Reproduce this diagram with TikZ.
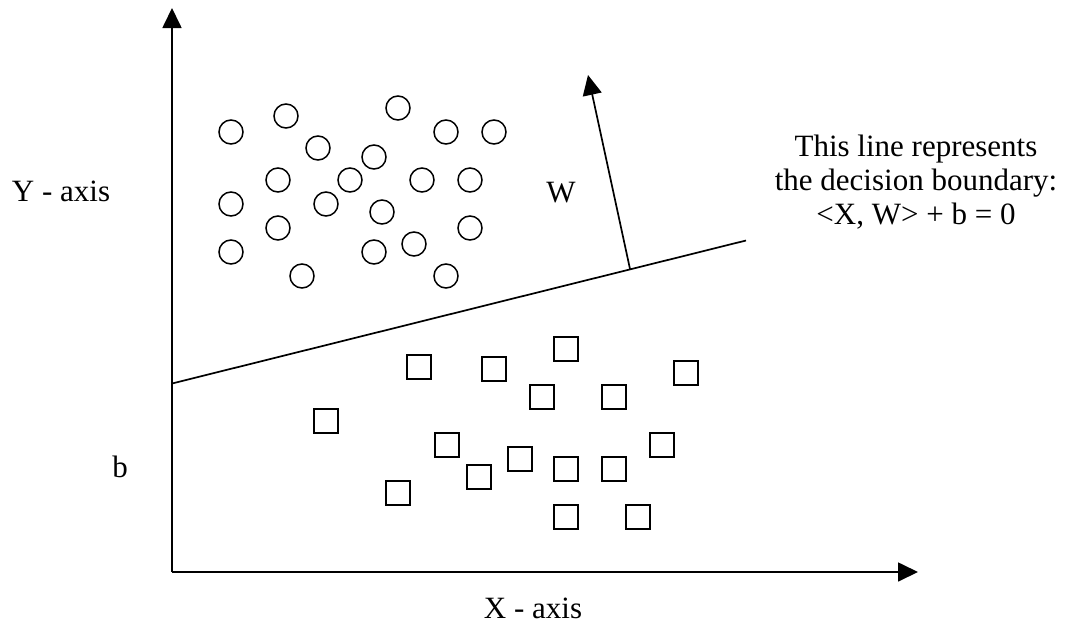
\documentclass[tikz,border=0pt]{standalone}
\usepackage{fontspec}
\setmainfont{Liberation Serif}
\usetikzlibrary{arrows.meta}
\begin{document}
\begin{tikzpicture}[x=1pt,y=-1pt,
  ln/.style={line width=1.7pt},
  arr/.style={ln,-{Triangle[length=20pt,width=19pt]}},
  pt/.style={circle,draw,line width=1.5pt,minimum size=24pt,inner sep=0pt},
  sq/.style={rectangle,draw,line width=1.5pt,minimum size=24pt,inner sep=0pt},
  lbl/.style={font=\fontsize{31}{34}\selectfont,inner sep=0pt}]
\useasboundingbox (0,0) rectangle (1065,640);
\coordinate (o) at (172,572);
\coordinate (ytip) at (172,8);
\coordinate (xtip) at (918,572);
\draw[arr] (o) -- (ytip);
\draw[arr] (o) -- (xtip);
% decision boundary
\coordinate (l1) at (172,383.5);
\coordinate (l2) at (746,240.5);
\draw[ln] (l1) -- (l2);
\coordinate (wb) at (630,269);
\coordinate (wt) at (588,75);
\draw[arr] (wb) -- (wt);
% circles
\foreach \x/\y [count=\i] in {231/132,286/116,398/108,446/132,494/132,318/148,374/157,278/180,350/180,422/180,470/180,231/204,326/204,382/212,278/228,470/228,231/252,374/252,414/244,302/276,446/276}
  \node[pt] (c\i) at (\x,\y) {};
% squares
\foreach \x/\y [count=\i] in {419/367,494/369,566/349,686/373,542/397,614/397,326/421,447/445,662/445,520/459,566/469,614/469,479/477,398/493,566/517,638/517}
  \node[sq] (s\i) at (\x,\y) {};
% labels
\node[lbl] (ylab) at (61,191) {Y - axis};
\node[lbl] (xlab) at (533,608) {X - axis};
\node[lbl] (blab) at (120,467) {b};
\node[lbl] (wlab) at (561,193) {W};
\node[lbl,align=center] (desc) at (916,182) {This line represents\\the decision boundary:\\\textless X, W\textgreater{} + b = 0};
\end{tikzpicture}
\end{document}
